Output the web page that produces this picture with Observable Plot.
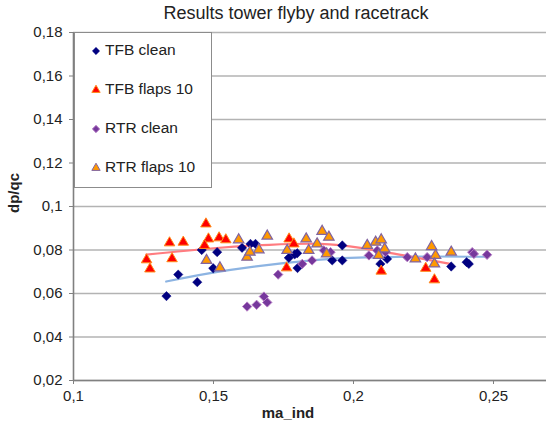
<!DOCTYPE html>
<html>
<head>
<meta charset="utf-8">
<script src="https://cdn.jsdelivr.net/npm/d3@7"></script>
<script src="https://cdn.jsdelivr.net/npm/@observablehq/plot@0.6"></script>
<style>
  html, body { margin: 0; padding: 0; background: white; }
  #chart { width: 546px; height: 427px; }
</style>
</head>
<body>
<div id="chart"></div>
<script>
const titleText = "Results tower flyby and racetrack";
const xLabel = "ma_ind";
const yLabel = "dp/qc";
const seriesNames = ["TFB clean", "TFB flaps 10", "RTR clean", "RTR flaps 10"];
const xTicks = [0.1, 0.15, 0.2, 0.25];
const yTicks = [0.02, 0.04, 0.06, 0.08, 0.1, 0.12, 0.14, 0.16, 0.18];

const tfbCleanX = [0.1332, 0.1374, 0.1442, 0.1458, 0.1513, 0.1499, 0.1602, 0.1632, 0.1650, 0.1769, 0.1799, 0.1800, 0.1790, 0.1924, 0.1960, 0.1960, 0.2096, 0.2120, 0.2349, 0.2404, 0.2412];
const tfbCleanY = [0.0588, 0.0687, 0.0652, 0.0800, 0.0790, 0.0716, 0.0810, 0.0828, 0.0828, 0.0764, 0.0785, 0.0717, 0.0780, 0.0752, 0.0821, 0.0752, 0.0736, 0.0759, 0.0724, 0.0744, 0.0736];

const tfbFlapsX = [0.1261, 0.1273, 0.1343, 0.1352, 0.1392, 0.1473, 0.1482, 0.1468, 0.1520, 0.1544, 0.1770, 0.1787, 0.1761, 0.2099, 0.2258, 0.2289];
const tfbFlapsY = [0.0755, 0.0713, 0.0833, 0.0760, 0.0836, 0.0920, 0.0851, 0.0821, 0.0856, 0.0847, 0.0851, 0.0828, 0.0718, 0.0703, 0.0716, 0.0663];

const rtrCleanX = [0.1620, 0.1654, 0.1680, 0.1692, 0.1731, 0.1817, 0.1852, 0.1894, 0.1918, 0.2055, 0.2085, 0.2114, 0.2192, 0.2263, 0.2424, 0.2430, 0.2477];
const rtrCleanY = [0.0540, 0.0548, 0.0586, 0.0559, 0.0687, 0.0736, 0.0752, 0.0798, 0.0790, 0.0775, 0.0798, 0.0790, 0.0767, 0.0767, 0.0790, 0.0782, 0.0778];

const rtrFlapsX = [0.1475, 0.1523, 0.1590, 0.1620, 0.1630, 0.1662, 0.1692, 0.1763, 0.1831, 0.1840, 0.1870, 0.1888, 0.1912, 0.1904, 0.2049, 0.2079, 0.2099, 0.2111, 0.2090, 0.2221, 0.2279, 0.2293, 0.2289, 0.2349];
const rtrFlapsY = [0.0752, 0.0718, 0.0847, 0.0767, 0.0790, 0.0801, 0.0864, 0.0798, 0.0851, 0.0798, 0.0828, 0.0886, 0.0859, 0.0782, 0.0821, 0.0836, 0.0847, 0.0805, 0.0775, 0.0759, 0.0816, 0.0775, 0.0736, 0.0790];

// Trend lines
const trendCleanX = [0.1331, 0.1561, 0.1882, 0.2061, 0.2240, 0.2477];
const trendCleanY = [0.0655, 0.0709, 0.0756, 0.0766, 0.0770, 0.0769];
const trendFlapsX = [0.1260, 0.1500, 0.1700, 0.1880, 0.2025, 0.2180, 0.2346];
const trendFlapsY = [0.0779, 0.0808, 0.0824, 0.0828, 0.0810, 0.0775, 0.0736];

const rows = (xs, ys) => xs.map((x, i) => ({x, y: ys[i]}));
const fmt = d => String(d).replace(".", ",");

const FONT = "'Liberation Sans', Arial, sans-serif";
const TXT = "#222";

const plot = Plot.plot({
  width: 546,
  height: 427,
  marginTop: 32,
  marginBottom: 47,
  marginLeft: 73,
  marginRight: 0,
  style: {fontFamily: FONT, fontSize: "15px", background: "white", color: TXT, overflow: "visible"},
  x: {domain: [0.1, 0.26893]},
  y: {domain: [0.02, 0.18]},
  marks: [
    Plot.gridY(yTicks, {stroke: "#b3b3b3", strokeOpacity: 1, strokeWidth: 1.6}),
    Plot.line(rows(trendCleanX, trendCleanY), {x: "x", y: "y", stroke: "#8db4e2", strokeWidth: 2.2, curve: "natural"}),
    Plot.line(rows(trendFlapsX, trendFlapsY), {x: "x", y: "y", stroke: "#ff7c80", strokeWidth: 2.2, curve: "natural"}),
    Plot.dot(rows(tfbCleanX, tfbCleanY), {x: "x", y: "y", symbol: "diamond2", r: 4.2, fill: "#000080", stroke: "#000080", strokeWidth: 0.5}),
    Plot.dot(rows(tfbFlapsX, tfbFlapsY), {x: "x", y: "y", symbol: "triangle", r: 3.9, fill: "#ff0000", stroke: "#ff8c1a", strokeWidth: 1}),
    Plot.dot(rows(rtrCleanX, rtrCleanY), {x: "x", y: "y", symbol: "diamond2", r: 4.2, fill: "#76389c", stroke: "#b57cc4", strokeWidth: 1}),
    Plot.dot(rows(rtrFlapsX, rtrFlapsY), {x: "x", y: "y", symbol: "triangle", r: 3.9, fill: "#ff9900", stroke: "#8064a2", strokeWidth: 1.2}),
    Plot.ruleX([0.1], {stroke: "#808080", strokeWidth: 1.6}),
    Plot.ruleY([0.02], {stroke: "#808080", strokeWidth: 1.6}),
    Plot.axisX({ticks: xTicks, tickFormat: fmt, tickSize: 4, tickPadding: 6, label: null, stroke: "#808080", fill: TXT}),
    Plot.axisY({ticks: yTicks, tickFormat: fmt, tickSize: 4, tickPadding: 7, label: null, stroke: "#808080", fill: TXT})
  ]
});

document.getElementById("chart").appendChild(plot);

const svg = d3.select(plot);

// Title
svg.append("text")
  .attr("x", 296).attr("y", 14)
  .attr("text-anchor", "middle").attr("dominant-baseline", "middle")
  .attr("font-family", FONT).attr("font-size", 18).attr("fill", TXT)
  .text(titleText);

// Axis titles
svg.append("text")
  .attr("x", 288).attr("y", 414)
  .attr("text-anchor", "middle").attr("dominant-baseline", "middle")
  .attr("font-family", FONT).attr("font-size", 15).attr("font-weight", "bold").attr("fill", TXT)
  .text(xLabel);
svg.append("text")
  .attr("transform", "translate(15,193) rotate(-90)")
  .attr("text-anchor", "middle").attr("dominant-baseline", "middle")
  .attr("font-family", FONT).attr("font-size", 15).attr("font-weight", "bold").attr("fill", TXT)
  .text(yLabel);

// Legend
const lg = svg.append("g");
lg.append("rect")
  .attr("x", 74.5).attr("y", 32.5).attr("width", 137).attr("height", 155)
  .attr("fill", "white").attr("stroke", "#8c8c8c").attr("stroke-width", 1);
const legendStyles = [
  {type: d3.symbolDiamond2, size: 34, fill: "#000080", stroke: "#000080", sw: 0.5},
  {type: d3.symbolTriangle, size: 30, fill: "#ff0000", stroke: "#ff8c1a", sw: 1},
  {type: d3.symbolDiamond2, size: 34, fill: "#76389c", stroke: "#b57cc4", sw: 1},
  {type: d3.symbolTriangle, size: 30, fill: "#ff9900", stroke: "#8064a2", sw: 1}
];
const rowY = [51, 90, 129, 168];
seriesNames.forEach((name, i) => {
  const s = legendStyles[i];
  lg.append("path")
    .attr("d", d3.symbol().type(s.type).size(s.size)())
    .attr("transform", `translate(96,${rowY[i]})`)
    .attr("fill", s.fill).attr("stroke", s.stroke).attr("stroke-width", s.sw);
  lg.append("text")
    .attr("x", 105).attr("y", rowY[i])
    .attr("text-anchor", "start")
    .attr("dominant-baseline", "middle")
    .attr("font-family", FONT).attr("font-size", 15.5).attr("fill", TXT)
    .text(name);
});
</script>
</body>
</html>
